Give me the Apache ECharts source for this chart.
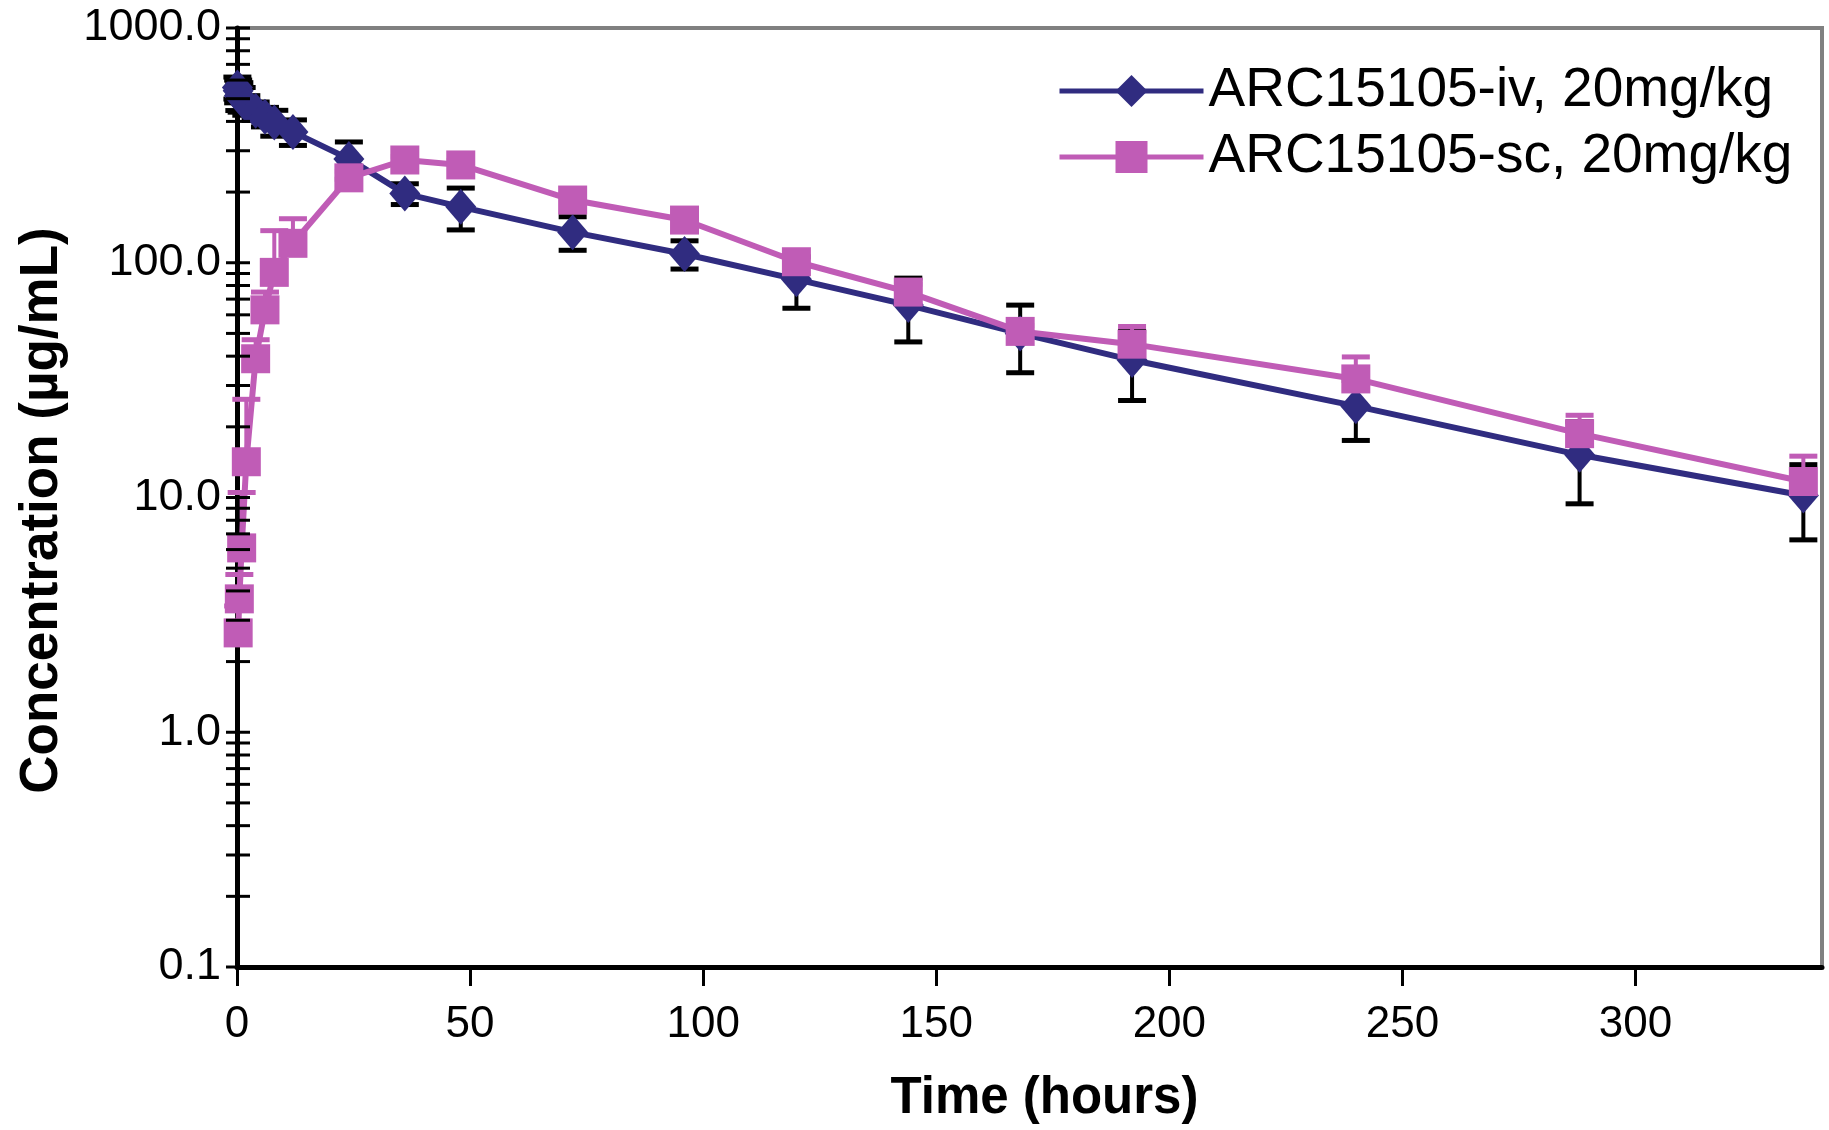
<!DOCTYPE html>
<html>
<head>
<meta charset="utf-8">
<script src="https://cdn.jsdelivr.net/npm/echarts@6.0.0/dist/echarts.min.js"></script>
<style>
  html, body { margin: 0; padding: 0; background: #fff; }
</style>
</head>
<body>
<div id="main" style="width: 1829px;height:1130px;"></div>

<script>
// series names
var ivName = 'ARC15105-iv, 20mg/kg';
var scName = 'ARC15105-sc, 20mg/kg';

// iv dose: time (h), mean conc (ug/mL), SD
var ivTime = [0.083, 0.25, 0.5, 1, 2, 4, 6, 8, 12, 24, 36, 48, 72, 96, 120, 144, 168, 192, 240, 288, 336];
var ivConc = [558, 540, 515, 498, 470, 444, 419, 396, 361, 277, 197, 173, 135, 109, 85, 66, 50, 38.5, 24.5, 15.2, 10.2];
var ivSd   = [60, 60, 70, 60, 45, 40, 40, 50, 45, 50, 20, 35, 22, 15, 21, 20, 16, 12.6, 7, 5.8, 3.6];

// sc dose: time (h), mean conc (ug/mL), SD (drawn upward only)
var scTime = [0.25, 0.5, 1, 2, 4, 6, 8, 12, 24, 36, 48, 72, 96, 120, 144, 168, 192, 240, 288, 336];
var scConc = [2.65, 3.7, 6.1, 14.2, 39, 63, 91, 121, 230, 274, 261, 185, 152, 101, 75, 51, 45, 32, 18.7, 11.7];
var scSd   = [0.8, 1.0, 4.4, 12, 8, 12, 46, 33, 15, 10, 12, 10, 6, 5, 6, 3, 8.5, 7.7, 3.7, 3.3];

// axis ticks
var xTicks = [0, 50, 100, 150, 200, 250, 300];
var yDecades = [0.1, 1, 10, 100];
var yMinorSteps = [1, 2, 3, 4, 5, 6, 7, 8, 9];

var ivColor = '#302C80';
var scColor = '#C05CB6';
var font = 'Liberation Sans, Arial, sans-serif';

var yTickValues = [];
yDecades.forEach(function (d) {
    yMinorSteps.forEach(function (m) { yTickValues.push(d * m); });
});
yTickValues.push(1000);

function pairs(t, c) {
    return t.map(function (x, i) { return [x, c[i]]; });
}

function barData(t, c, sd, both) {
    return t.map(function (x, i) {
        var lo = both ? Math.max(c[i] - sd[i], 0.1) : c[i];
        return [x, c[i], lo, c[i] + sd[i]];
    });
}

function errorBar(color, stemW) {
    return function (params, api) {
        var top = api.coord([api.value(0), api.value(3)]);
        var mid = api.coord([api.value(0), api.value(1)]);
        var bot = api.coord([api.value(0), api.value(2)]);
        var half = 14;
        var kids = [
            { type: 'line', shape: { x1: top[0], y1: top[1], x2: bot[0], y2: bot[1] },
              style: { stroke: color, lineWidth: stemW } },
            { type: 'line', shape: { x1: top[0] - half, y1: top[1], x2: top[0] + half, y2: top[1] },
              style: { stroke: color, lineWidth: 5 } }
        ];
        if (bot[1] - mid[1] > 1) {
            kids.push({ type: 'line', shape: { x1: bot[0] - half, y1: bot[1], x2: bot[0] + half, y2: bot[1] },
                        style: { stroke: color, lineWidth: 5 } });
        }
        return { type: 'group', children: kids };
    };
}

var myChart = echarts.init(document.getElementById('main'));

var option = {
    animation: false,
    backgroundColor: '#fff',
    grid: {
        left: 237,
        right: 7,
        top: 28,
        bottom: 163,
        show: true,
        borderColor: '#808080',
        borderWidth: 4
    },
    legend: {
        data: [ivName, scName],
        orient: 'vertical',
        left: 1052,
        top: 58,
        itemWidth: 144,
        itemHeight: 40,
        itemGap: 10,
        itemTextGap: 14,
        lineStyle: { width: 5 },
        textStyle: { fontSize: 55, fontFamily: font, color: '#000', lineHeight: 56 }
    },
    xAxis: {
        type: 'value',
        min: 0,
        max: 340,
        interval: 50,
        name: 'Time (hours)',
        nameLocation: 'middle',
        nameGap: 106,
        nameTextStyle: { fontSize: 51, fontWeight: 'bold', fontFamily: font, color: '#000', padding: [0, 0, 0, 30] },
        axisLine: { onZero: false, lineStyle: { color: '#000', width: 5 } },
        axisTick: { show: true, inside: false, length: 19, lineStyle: { color: '#000', width: 3 }, customValues: xTicks },
        axisLabel: { fontSize: 44, fontFamily: font, color: '#000', margin: 36, customValues: xTicks },
        splitLine: { show: false }
    },
    yAxis: {
        type: 'log',
        logBase: 10,
        min: 0.1,
        max: 1000,
        name: 'Concentration (µg/mL)',
        nameLocation: 'middle',
        nameGap: 168,
        nameTextStyle: { fontSize: 53, fontWeight: 'bold', fontFamily: font, color: '#000', padding: [0, 26, 0, 0] },
        axisLine: { lineStyle: { color: '#000', width: 5 } },
        axisTick: { show: false },
        axisLabel: {
            fontSize: 45, fontFamily: font, color: '#000', margin: 16,
            formatter: function (v) { return Number(v).toFixed(1); }
        },
        splitLine: { show: false }
    },
    series: [
        {
            name: 'yticks',
            type: 'custom',
            silent: true,
            clip: false,
            z: 5,
            data: yTickValues.map(function (v) { return [0, v]; }),
            renderItem: function (params, api) {
                var p = api.coord([0, api.value(1)]);
                return { type: 'line', shape: { x1: p[0] - 11, y1: p[1], x2: p[0] + 13, y2: p[1] },
                         style: { stroke: '#000', lineWidth: 3 } };
            }
        },
        {
            name: 'ivErr',
            type: 'custom',
            silent: true,
            z: 2,
            data: barData(ivTime, ivConc, ivSd, true),
            encode: { x: 0, y: [1, 2, 3] },
            renderItem: errorBar('#000', 4)
        },
        {
            name: ivName,
            type: 'line',
            z: 3,
            data: pairs(ivTime, ivConc),
            symbol: 'diamond',
            symbolSize: [31, 36],
            color: ivColor,
            lineStyle: { color: ivColor, width: 6 },
            itemStyle: { color: ivColor }
        },
        {
            name: 'scErr',
            type: 'custom',
            silent: true,
            z: 4,
            data: barData(scTime, scConc, scSd, false),
            encode: { x: 0, y: [1, 2, 3] },
            renderItem: errorBar(scColor, 4)
        },
        {
            name: scName,
            type: 'line',
            z: 4,
            data: pairs(scTime, scConc),
            symbol: 'rect',
            symbolSize: 29,
            color: scColor,
            lineStyle: { color: scColor, width: 6 },
            itemStyle: { color: scColor }
        }
    ]
};
myChart.setOption(option);
</script>
</body>
</html>
